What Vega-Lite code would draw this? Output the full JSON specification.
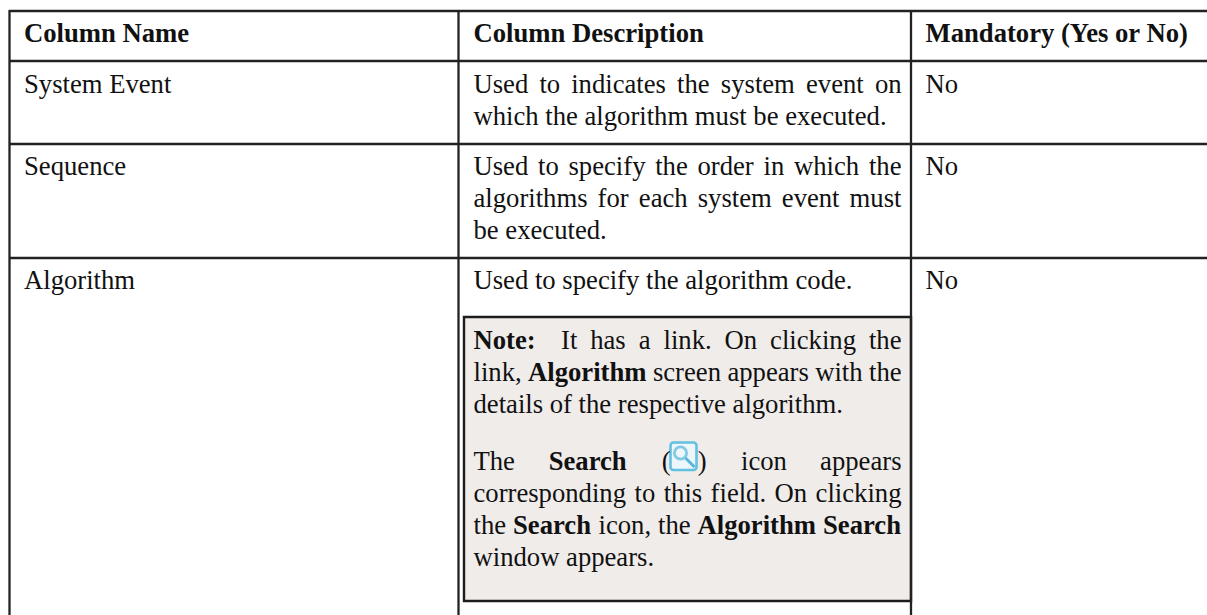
{
"$schema":"https://vega.github.io/schema/vega-lite/v6.json",
"width":1207,"height":615,"padding":0,"autosize":{"type":"none"},
"background":"white",
"config":{"view":{"stroke":null}},
"datasets":{
"box":[{"x":464,"x2":911,"y":317,"y2":601}],
"h":[{"x":9,"x2":1207,"y":11,"y2":11},{"x":9,"x2":1207,"y":61,"y2":61},{"x":9,"x2":1207,"y":144,"y2":144},{"x":9,"x2":1207,"y":258,"y2":258}],
"v":[{"x":9.5,"x2":9.5,"y":10,"y2":615},{"x":458.5,"x2":458.5,"y":10,"y2":615},{"x":911,"x2":911,"y":10,"y2":615}],
"icon":[{"x":670.5,"x2":696.5,"y":442.5,"y2":470}],
"lens":[{"x":680.5,"y":453}],
"handle":[{"x":685.5,"x2":694.5,"y":458,"y2":467}],
"regular":[
{"x":24,"y":92.5,"t":"System Event"},{"x":24,"y":175,"t":"Sequence"},{"x":24,"y":289.3,"t":"Algorithm"},
{"x":473.5,"y":92.5,"t":"Used"},{"x":539.4,"y":92.5,"t":"to"},{"x":571.2,"y":92.5,"t":"indicates"},{"x":677.1,"y":92.5,"t":"the"},{"x":720.8,"y":92.5,"t":"system"},{"x":806,"y":92.5,"t":"event"},{"x":874.9,"y":92.5,"t":"on"},
{"x":473.5,"y":124.5,"t":"which the algorithm must be executed."},
{"x":473.5,"y":175,"t":"Used"},{"x":538,"y":175,"t":"to"},{"x":568.5,"y":175,"t":"specify"},{"x":655.2,"y":175,"t":"the"},{"x":697.5,"y":175,"t":"order"},{"x":763.5,"y":175,"t":"in"},{"x":794,"y":175,"t":"which"},{"x":868.9,"y":175,"t":"the"},
{"x":473.5,"y":207,"t":"algorithms"},{"x":597.6,"y":207,"t":"for"},{"x":638.8,"y":207,"t":"each"},{"x":697.7,"y":207,"t":"system"},{"x":781.8,"y":207,"t":"event"},{"x":849.6,"y":207,"t":"must"},
{"x":473.5,"y":239,"t":"be executed."},
{"x":473.5,"y":289.3,"t":"Used to specify the algorithm code."},
{"x":925.5,"y":92.5,"t":"No"},{"x":925.5,"y":175,"t":"No"},{"x":925.5,"y":289.3,"t":"No"},
{"x":561,"y":349,"t":"It"},{"x":590.2,"y":349,"t":"has"},{"x":638.7,"y":349,"t":"a"},{"x":663.5,"y":349,"t":"link."},{"x":724.6,"y":349,"t":"On"},{"x":770.1,"y":349,"t":"clicking"},{"x":868.9,"y":349,"t":"the"},
{"x":473.5,"y":381,"t":"link,"},{"x":652.9,"y":381,"t":"screen"},{"x":727.4,"y":381,"t":"appears"},{"x":815.2,"y":381,"t":"with"},{"x":869,"y":381,"t":"the"},
{"x":473.5,"y":413,"t":"details of the respective algorithm."},
{"x":473.5,"y":469.7,"t":"The"},{"x":661.7,"y":469.7,"t":"("},{"x":697.7,"y":469.7,"t":")"},{"x":741,"y":469.7,"t":"icon"},{"x":820.1,"y":469.7,"t":"appears"},
{"x":473.5,"y":501.7,"t":"corresponding"},{"x":634.5,"y":501.7,"t":"to"},{"x":663.7,"y":501.7,"t":"this"},{"x":710.6,"y":501.7,"t":"field."},{"x":774.6,"y":501.7,"t":"On"},{"x":815.6,"y":501.7,"t":"clicking"},
{"x":473.5,"y":533.7,"t":"the"},{"x":598.5,"y":533.7,"t":"icon,"},{"x":658,"y":533.7,"t":"the"},
{"x":473.5,"y":565.7,"t":"window appears."}
],
"bold":[
{"x":24,"y":41.7,"t":"Column Name"},{"x":473.5,"y":41.7,"t":"Column Description"},{"x":925.5,"y":41.7,"t":"Mandatory (Yes or No)"},
{"x":473.5,"y":349,"t":"Note:"},{"x":528,"y":381,"t":"Algorithm"},{"x":548.7,"y":469.7,"t":"Search"},{"x":513,"y":533.7,"t":"Search"},{"x":697.5,"y":533.7,"t":"Algorithm"},{"x":823,"y":533.7,"t":"Search"}
]
},
"encoding":{
"x":{"field":"x","type":"quantitative","scale":{"domain":[0,1207],"nice":false,"zero":false},"axis":null},
"y":{"field":"y","type":"quantitative","scale":{"domain":[0,615],"reverse":true,"nice":false,"zero":false},"axis":null}
},
"layer":[
{"data":{"name":"box"},"mark":{"type":"rect","fill":"#f0ecea","stroke":"#1c1c1c","strokeWidth":2.4},"encoding":{"x2":{"field":"x2"},"y2":{"field":"y2"}}},
{"data":{"name":"h"},"mark":{"type":"rule","stroke":"#222222","strokeWidth":2.3},"encoding":{"x2":{"field":"x2"},"y2":{"field":"y2"}}},
{"data":{"name":"v"},"mark":{"type":"rule","stroke":"#222222","strokeWidth":2.3},"encoding":{"x2":{"field":"x2"},"y2":{"field":"y2"}}},
{"data":{"name":"icon"},"mark":{"type":"rect","fill":"#edf7fb","stroke":"#62c0e0","strokeWidth":2.6,"cornerRadius":3},"encoding":{"x2":{"field":"x2"},"y2":{"field":"y2"}}},
{"data":{"name":"lens"},"mark":{"type":"point","shape":"circle","filled":false,"stroke":"#55b8da","strokeWidth":2.8,"size":150},"encoding":{}},
{"data":{"name":"handle"},"mark":{"type":"rule","stroke":"#55b8da","strokeWidth":3},"encoding":{"x2":{"field":"x2"},"y2":{"field":"y2"}}},
{"data":{"name":"regular"},"mark":{"type":"text","font":"Liberation Serif","fontSize":26.67,"align":"left","baseline":"alphabetic","color":"#111111"},"encoding":{"text":{"field":"t"}}},
{"data":{"name":"bold"},"mark":{"type":"text","font":"Liberation Serif","fontSize":26.67,"fontWeight":"bold","align":"left","baseline":"alphabetic","color":"#111111"},"encoding":{"text":{"field":"t"}}}
]
}
